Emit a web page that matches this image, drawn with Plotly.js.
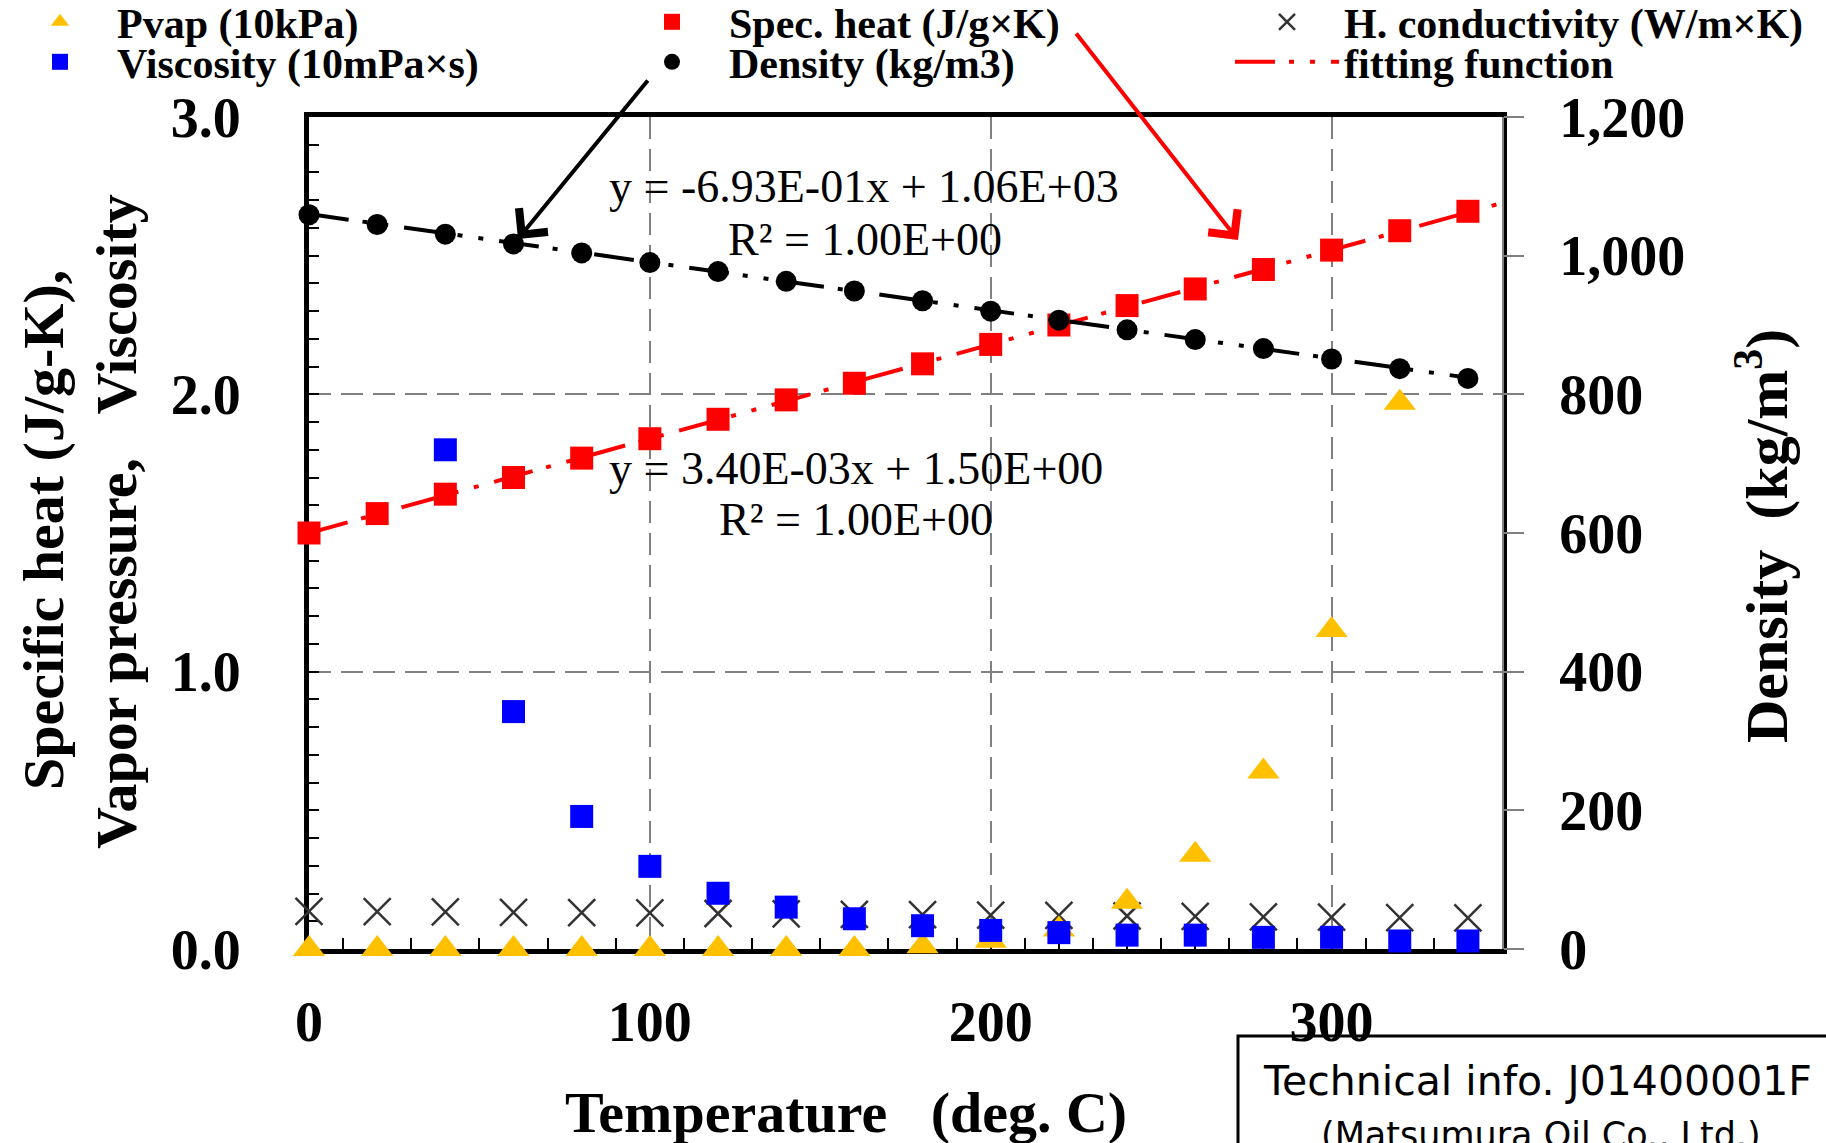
<!DOCTYPE html>
<html><head><meta charset="utf-8">
<script src="https://cdn.plot.ly/plotly-3.0.1.min.js"></script>
<style>html,body{margin:0;padding:0;background:#fff}#chart{width:1826px;height:1143px}</style>
</head><body><div id="chart"></div>
<script>
// ---- data ----
const temperature = [0,20,40,60,80,100,120,140,160,180,200,220,240,260,280,300,320,340];
const pvap10kPa = [0,0,0,0,0,0,0,0,0,0.01,0.03,0.07,0.17,0.34,0.64,1.15,1.97,null];
const viscosity10mPas = [null,null,1.80,0.856,0.478,0.298,0.201,0.151,0.109,0.084,0.067,0.059,0.050,0.050,0.042,0.042,0.029,0.029];
const specHeat = [1.50,1.57,1.64,1.70,1.77,1.84,1.91,1.98,2.04,2.11,2.18,2.25,2.32,2.38,2.45,2.52,2.59,2.66];
const density = [1059,1045,1031,1017,1004,990,977,963,949,935,920,907,893,879,866,851,837,823];
const conductivity = [0.136,0.135,0.134,0.132,0.131,0.130,0.128,0.127,0.125,0.124,0.122,0.121,0.119,0.118,0.116,0.115,0.113,0.112];
const fitSpecX = [0, 350];
const fitSpecY = [1.50, 2.69];
const fitDensX = [0, 340];
const fitDensY = [1060, 824];
const xTicks = [0,100,200,300];
const yLeftTicks = [0,1,2,3];
const yRightTicks = [0,200,400,600,800,1000,1200];

// ---- layout geometry (pixels) ----
const W = 1826, H = 1143, L = 309, R = 1502, T = 117, B = 949;
const px = x => (x - L) / (R - L);
const py = y => (B - y) / (B - T);
const serif = 'Liberation Serif, Times New Roman, serif';
const fitDash = '40px,14px,5px,16px,5px,16px';

const traces = [
  {x: temperature, y: specHeat, mode: 'markers', name: 'Spec. heat (J/g×K)', legend: 'legend3', cliponaxis: false,
   marker: {symbol: 'square', size: 23, color: '#FF0000', line: {width: 0}}},
  {x: fitSpecX, y: fitSpecY, mode: 'lines', name: 'fitting function', legend: 'legend6',
   line: {color: '#FF0000', width: 4, dash: fitDash}},
  {x: temperature, y: density, mode: 'markers', name: 'Density (kg/m3)', legend: 'legend4', yaxis: 'y2', cliponaxis: false,
   marker: {symbol: 'circle', size: 21, color: '#000000', line: {width: 0}}},
  {x: fitDensX, y: fitDensY, mode: 'lines', name: 'density fit', showlegend: false, yaxis: 'y2',
   line: {color: '#000000', width: 4, dash: fitDash}},
  {x: temperature, y: conductivity, mode: 'markers', name: 'H. conductivity (W/m×K)', legend: 'legend5', yaxis: 'y3', cliponaxis: false,
   marker: {symbol: 'x-thin-open', size: 27, color: '#333333', line: {width: 2.5, color: '#333333'}}},
  {x: temperature, y: pvap10kPa, mode: 'markers', name: 'Pvap (10kPa)', legend: 'legend', yaxis: 'y3', cliponaxis: false,
   marker: {symbol: 'triangle-up', size: 28, color: '#FFC000', line: {width: 0}}},
  {x: temperature, y: viscosity10mPas, mode: 'markers', name: 'Viscosity (10mPa×s)', legend: 'legend2', yaxis: 'y3', cliponaxis: false,
   marker: {symbol: 'square', size: 23, color: '#0000FF', line: {width: 0}}}
];

function legendAt(xMarker, yRow) {
  return {x: (xMarker - 57) / W, y: 1 - yRow / H, xref: 'container', yref: 'container',
    xanchor: 'left', yanchor: 'middle', bgcolor: 'rgba(0,0,0,0)', borderwidth: 0,
    itemwidth: 104, font: {family: serif, size: 42, color: '#000', weight: 'bold'}};
}

const annFont = {family: serif, size: 46, color: '#000'};
const titleFont = {family: serif, size: 58, color: '#000', weight: 'bold'};
const annotations = [
  {x: px(864), y: py(186), text: 'y = -6.93E-01x + 1.06E+03'},
  {x: px(865), y: py(239), text: 'R² = 1.00E+00'},
  {x: px(856), y: py(468), text: 'y = 3.40E-03x + 1.50E+00'},
  {x: px(856), y: py(519), text: 'R² = 1.00E+00'}
].map(a => Object.assign({xref: 'paper', yref: 'paper', showarrow: false, xanchor: 'center', yanchor: 'middle', font: annFont}, a));

annotations.push(
  {xref: 'paper', yref: 'paper', x: px(846), y: py(1112), text: '<b>Temperature\u00a0\u00a0\u00a0(deg. C)</b>', showarrow: false, font: titleFont, xanchor: 'center', yanchor: 'middle'},
  {xref: 'paper', yref: 'paper', x: px(43), y: py(530), text: '<b>Specific heat (J/g-K),</b>', textangle: -90, showarrow: false, font: titleFont, xanchor: 'center', yanchor: 'middle'},
  {xref: 'paper', yref: 'paper', x: px(116), y: py(521), text: '<b>Vapor pressure,\u00a0\u00a0\u00a0Viscosity</b>', textangle: -90, showarrow: false, font: titleFont, xanchor: 'center', yanchor: 'middle'},
  {xref: 'paper', yref: 'paper', x: px(1762), y: py(536), text: '<b>Density\u00a0\u00a0(kg/m<sup>3</sup>)</b>', textangle: -90, showarrow: false, font: {family: serif, size: 60, color: '#000', weight: 'bold'}, xanchor: 'center', yanchor: 'middle'},
  // arrows
  {xref: 'paper', yref: 'paper', x: px(518), y: py(239), ax: 649 - 518, ay: 79 - 239, axref: 'pixel', ayref: 'pixel', text: '', showarrow: true, arrowhead: 4, arrowsize: 1.8, arrowwidth: 4, arrowcolor: '#000'},
  {xref: 'paper', yref: 'paper', x: px(1238), y: py(240), ax: 1075 - 1238, ay: 32 - 240, axref: 'pixel', ayref: 'pixel', text: '', showarrow: true, arrowhead: 4, arrowsize: 1.8, arrowwidth: 4, arrowcolor: '#FF0000'},
  // technical info box text
  {xref: 'paper', yref: 'paper', x: px(1537), y: py(1081), text: 'Technical info. J01400001F', showarrow: false, font: {family: 'DejaVu Sans, sans-serif', size: 41, color: '#000'}, xanchor: 'center', yanchor: 'middle'},
  {xref: 'paper', yref: 'paper', x: px(1541), y: py(1135), text: '(Matsumura Oil Co., Ltd.)', showarrow: false, font: {family: 'DejaVu Sans, sans-serif', size: 35, color: '#000'}, xanchor: 'center', yanchor: 'middle'}
);

const tickFont = {family: serif, size: 56, color: '#000', weight: 'bold'};
const layout = {
  width: W, height: H,
  margin: {l: L, r: W - R, t: T, b: H - B, pad: 0, autoexpand: false},
  paper_bgcolor: '#fff', plot_bgcolor: '#fff',
  showlegend: true,
  legend: legendAt(60, 22),
  legend2: legendAt(60, 62),
  legend3: legendAt(672, 22),
  legend4: legendAt(672, 62),
  legend5: legendAt(1287, 22),
  legend6: legendAt(1287, 62),
  xaxis: {
    range: [0, 350], tickvals: xTicks, ticktext: xTicks.map(String), tickangle: 0, layer: 'below traces',
    showline: true, linecolor: '#000', linewidth: 5, mirror: true,
    ticks: 'inside', ticklen: 11, tickwidth: 2, tickcolor: '#000',
    minor: {dtick: 10, tick0: 0, ticks: 'inside', ticklen: 11, tickwidth: 2, tickcolor: '#000', showgrid: false},
    showgrid: true, gridcolor: '#808080', gridwidth: 2, griddash: '22px,10px',
    zeroline: false, tickfont: tickFont, ticklabelstandoff: 20, fixedrange: true, automargin: false
  },
  yaxis: {
    range: [0, 3], tickvals: yLeftTicks, tickformat: '.1f', layer: 'below traces',
    showline: true, linecolor: '#000', linewidth: 5, mirror: true,
    ticks: 'inside', ticklen: 10, tickwidth: 2, tickcolor: '#000',
    minor: {dtick: 0.1, tick0: 0, ticks: 'inside', ticklen: 10, tickwidth: 2, tickcolor: '#000', showgrid: false},
    showgrid: true, gridcolor: '#808080', gridwidth: 2, griddash: '22px,10px',
    zeroline: false, tickfont: tickFont, ticklabelstandoff: 52, fixedrange: true, automargin: false
  },
  yaxis2: {
    overlaying: 'y', side: 'right', range: [0, 1200], tickvals: yRightTicks,
    tickformat: ',d', separatethousands: true,
    showline: true, linecolor: '#808080', linewidth: 2,
    ticks: 'outside', ticklen: 20, tickwidth: 2, tickcolor: '#808080',
    showgrid: false, zeroline: false, tickfont: tickFont, ticklabelstandoff: 24, fixedrange: true, automargin: false
  },
  yaxis3: {
    overlaying: 'y', side: 'left', range: [0, 3], visible: false, fixedrange: true, automargin: false
  },
  shapes: [
    {type: 'rect', xref: 'paper', yref: 'paper', x0: px(1238), x1: px(1900), y0: py(1036), y1: py(1200),
     line: {color: '#000', width: 3}, fillcolor: 'rgba(0,0,0,0)', layer: 'above'}
  ],
  annotations: annotations
};

Plotly.newPlot('chart', traces, layout, {displayModeBar: false, staticPlot: true});
</script>
</body></html>
